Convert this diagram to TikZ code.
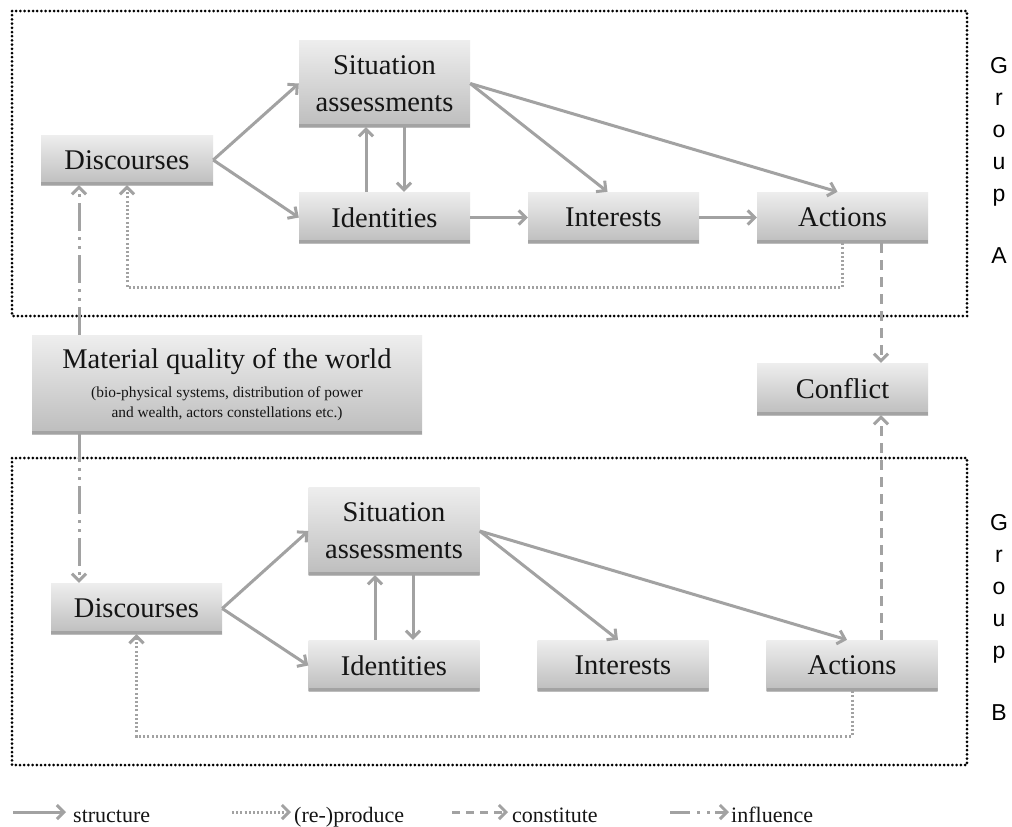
\documentclass[tikz,border=0pt]{standalone}
\usepackage{fontspec}
\setmainfont{Liberation Serif}
\newfontfamily\grpfont{Liberation Sans}
\usetikzlibrary{arrows.meta,calc}
\definecolor{linegray}{HTML}{A2A2A2}
\definecolor{boxtop}{HTML}{EEEEEE}
\definecolor{boxbot}{HTML}{BDBDBD}
\definecolor{boxband}{HTML}{A3A3A3}
\definecolor{txt}{HTML}{151515}
\tikzset{
  box/.style={rectangle, inner sep=0pt, minimum width=171pt, minimum height=51pt,
    top color=boxtop, bottom color=boxbot, text=txt,
    font=\fontsize{28.5}{37}\selectfont, align=center,
    path picture={\fill[boxband] (path picture bounding box.south west) rectangle ([yshift=3pt]path picture bounding box.south east);}},
  tip/.style={-{Straight Barb[length=7pt,width=14pt]}},
  st/.style={draw=linegray, line width=3pt, tip},
  rp/.style={draw=linegray, line width=3pt, dash pattern=on 2pt off 2.2pt, tip},
  cs/.style={draw=linegray, line width=3pt, dash pattern=on 10pt off 7pt, tip},
  inf/.style={draw=linegray, line width=3pt, dash pattern=on 28pt off 6pt on 3pt off 6pt on 3pt off 6pt, tip},
  grp/.style={draw=black, line width=3pt, dash pattern=on 0pt off 4.2pt, line cap=round},
  grpl/.style={font=\grpfont\fontsize{23}{23}\selectfont, anchor=base, inner sep=0pt},
  leg/.style={font=\fontsize{22}{24}\selectfont, anchor=base west, inner sep=0pt, text=txt},
}
\begin{document}
\begin{tikzpicture}[x=1pt,y=-1pt]
\useasboundingbox (0,0) rectangle (1012,827);
\fill[white] (0,0) rectangle (1012,827);

% group boxes
\draw[grp] (12,11) rectangle (967,316);
\draw[grp] (12,458) rectangle (967,765);

% group A nodes
\node[box, minimum width=172pt, minimum height=50pt] (dA) at (127,160) {Discourses};
\node[box, minimum height=87pt] (sA) at (384.5,83.5) {Situation\\assessments};
\node[box] (iA) at (384.5,217.5) {Identities};
\node[box] (nA) at (613.5,217.5) {Interests};
\node[box] (aA) at (842.5,217.5) {Actions};

% middle nodes
\node[box, minimum width=390pt, minimum height=99pt] (mat) at (227,384.5) {};
\node[anchor=base, inner sep=0pt, text=txt, font=\fontsize{28.5}{30}\selectfont] (matT) at (227,368) {Material quality of the world};
\node[anchor=base, inner sep=0pt, text=txt, font=\fontsize{15.4}{18}\selectfont] (matS1) at (227,397) {(bio-physical systems, distribution of power};
\node[anchor=base, inner sep=0pt, text=txt, font=\fontsize{15.4}{18}\selectfont] (matS2) at (227,417) {and wealth, actors constellations etc.)};
\node[box, minimum height=52pt] (conf) at (842.5,389) {Conflict};

% group B nodes
\node[box] (dB) at (136.5,608.5) {Discourses};
\node[box, minimum height=88pt] (sB) at (394,531) {Situation\\assessments};
\node[box] (iB) at (394,665.5) {Identities};
\node[box] (nB) at (623,665.5) {Interests};
\node[box] (aB) at (852,665.5) {Actions};

% group A connectors
\draw[st] (dA.east) -- (sA.west);
\draw[st] (dA.east) -- (iA.west);
\draw[st] ([xshift=-18.5pt]iA.north) -- ([xshift=-18.5pt]sA.south);
\draw[st] ([xshift=19.5pt]sA.south) -- ([xshift=19.5pt]iA.north);
\draw[st] (iA.east) -- (nA.west);
\draw[st] (nA.east) -- (aA.west);
\draw[st] (sA.east) -- ([xshift=-6pt]nA.north);
\draw[st] (sA.east) -- ([xshift=-5pt]aA.north);
\draw[rp] (aA.south) -- ++(0,44) -| (dA.south);

% group B connectors
\draw[st] (dB.east) -- (sB.west);
\draw[st] (dB.east) -- (iB.west);
\draw[st] ([xshift=-19pt]iB.north) -- ([xshift=-19pt]sB.south);
\draw[st] ([xshift=19pt]sB.south) -- ([xshift=19pt]iB.north);
\draw[st] (sB.east) -- ([xshift=-5pt]nB.north);
\draw[st] (sB.east) -- ([xshift=-5pt]aB.north);
\draw[rp] (aB.south) -- ++(0,45) -| (dB.south);

% conflict and influence
\draw[cs] ([xshift=38.5pt]aA.south) -- ([xshift=38.5pt]conf.north);
\draw[cs] ([xshift=29pt]aB.north) -- ([xshift=38.5pt]conf.south);
\draw[inf] ([xshift=-148pt]mat.north) -- ([xshift=-48pt]dA.south);
\draw[inf] ([xshift=-148pt]mat.south) -- ([xshift=-57.5pt]dB.north);

% group labels
\foreach \l/\y [count=\i] in {G/73, r/105, o/137, u/169, p/201, A/263}
  {\node[grpl] (gA\i) at (999,\y) {\l};}
\foreach \l/\y [count=\i] in {G/530, r/562, o/594, u/626, p/658, B/720}
  {\node[grpl] (gB\i) at (999,\y) {\l};}

% legend
\coordinate (l1a) at (13,812); \coordinate (l1b) at (66,812);
\coordinate (l2a) at (232,812); \coordinate (l2b) at (291,812);
\coordinate (l3a) at (452,812); \coordinate (l3b) at (508,812);
\coordinate (l4a) at (670,812); \coordinate (l4b) at (729,812);
\draw[st] (l1a) -- (l1b);
\draw[rp] (l2a) -- (l2b);
\draw[cs, dash pattern=on 8pt off 6pt] (l3a) -- (l3b);
\draw[inf, dash pattern=on 20pt off 7pt on 3pt off 7pt on 3pt off 5pt] (l4a) -- (l4b);
\node[leg] (t1) at (73,822) {structure};
\node[leg] (t2) at (294,822) {(re-)produce};
\node[leg] (t3) at (512,822) {constitute};
\node[leg] (t4) at (731,822) {influence};
\end{tikzpicture}
\end{document}
